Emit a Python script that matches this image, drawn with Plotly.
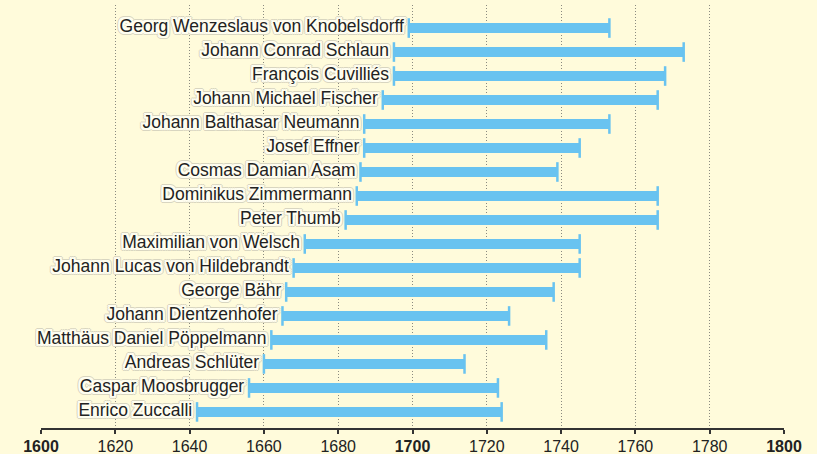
import plotly.graph_objects as go

names = [
    "Georg Wenzeslaus von Knobelsdorff", "Johann Conrad Schlaun", "François Cuvilliés",
    "Johann Michael Fischer", "Johann Balthasar Neumann", "Josef Effner",
    "Cosmas Damian Asam", "Dominikus Zimmermann", "Peter Thumb",
    "Maximilian von Welsch", "Johann Lucas von Hildebrandt", "George Bähr",
    "Johann Dientzenhofer", "Matthäus Daniel Pöppelmann", "Andreas Schlüter",
    "Caspar Moosbrugger", "Enrico Zuccalli",
]
born = [1699, 1695, 1695, 1692, 1687, 1687, 1686, 1685, 1682, 1671, 1668, 1666, 1665, 1662, 1660, 1656, 1642]
died = [1753, 1773, 1768, 1766, 1753, 1745, 1739, 1766, 1766, 1745, 1745, 1738, 1726, 1736, 1714, 1723, 1724]

tick_vals = [1600, 1620, 1640, 1660, 1680, 1700, 1720, 1740, 1760, 1780, 1800]
tick_text = ["<b>1600</b>", "1620", "1640", "1660", "1680", "<b>1700</b>", "1720", "1740", "1760", "1780", "<b>1800</b>"]

BLUE = "#69C3F0"
BG = "#FFFBDB"
FONT = "Liberation Sans, Arial, sans-serif"
rows = list(range(len(names)))

fig = go.Figure()
fig.add_trace(go.Bar(
    y=rows, x=[d - b for b, d in zip(born, died)], base=born, orientation="h",
    width=0.42, marker=dict(color=BLUE, line=dict(width=0)), hoverinfo="skip",
))
fig.add_trace(go.Scatter(
    y=rows + rows, x=born + died, mode="markers",
    marker=dict(symbol="line-ns", size=14, line=dict(width=2.5, color=BLUE)),
    hoverinfo="skip",
))
white = [(1, 1), (-1, -1), (1, -1), (-1, 1), (2, 0), (-2, 0), (0, 2), (0, -2),
         (2, 2), (-2, -2), (2, -2), (-2, 2)]
gray = [(3, 0), (-3, 0), (0, 3), (0, -3), (2, 3), (-2, 3), (2, -3), (-2, -3),
        (3, 2), (-3, 2), (3, -2), (-3, -2)]
halo = ", ".join([f"{dx}px {dy}px 0 #fffef0" for dx, dy in white] +
                 [f"{dx}px {dy}px 0 #d8d5c0" for dx, dy in gray])
fig.add_trace(go.Scatter(
    y=rows, x=[b - 1.3 for b in born], mode="text", text=names,
    textposition="middle left", cliponaxis=False,
    textfont=dict(family=FONT, size=17.5, color="#222222", shadow=halo),
    hoverinfo="skip",
))

fig.update_layout(
    width=817, height=454, showlegend=False,
    paper_bgcolor=BG, plot_bgcolor=BG,
    margin=dict(l=41, r=33, t=5, b=26, autoexpand=False),
    xaxis=dict(
        range=[1600, 1800], tickvals=tick_vals, ticktext=tick_text,
        showgrid=True, gridcolor="#8a8a80", griddash="1px,2px", gridwidth=1,
        showline=True, linecolor="#333333", linewidth=1.5,
        ticks="outside", ticklen=4, tickwidth=1.5, tickcolor="#333333",
        ticklabelstandoff=-1,
        tickfont=dict(family=FONT, size=16, color="#222222"),
        zeroline=False, fixedrange=True, automargin=False,
    ),
    yaxis=dict(range=[16.67, -0.96], showgrid=False, showticklabels=False,
               zeroline=False, showline=False, fixedrange=True, automargin=False),
)
fig.write_html(
    "out.html",
    config={"displayModeBar": False},
    post_script="document.body.style.margin='0';document.body.style.padding='0';"
                "document.body.style.background='" + BG + "';",
)
